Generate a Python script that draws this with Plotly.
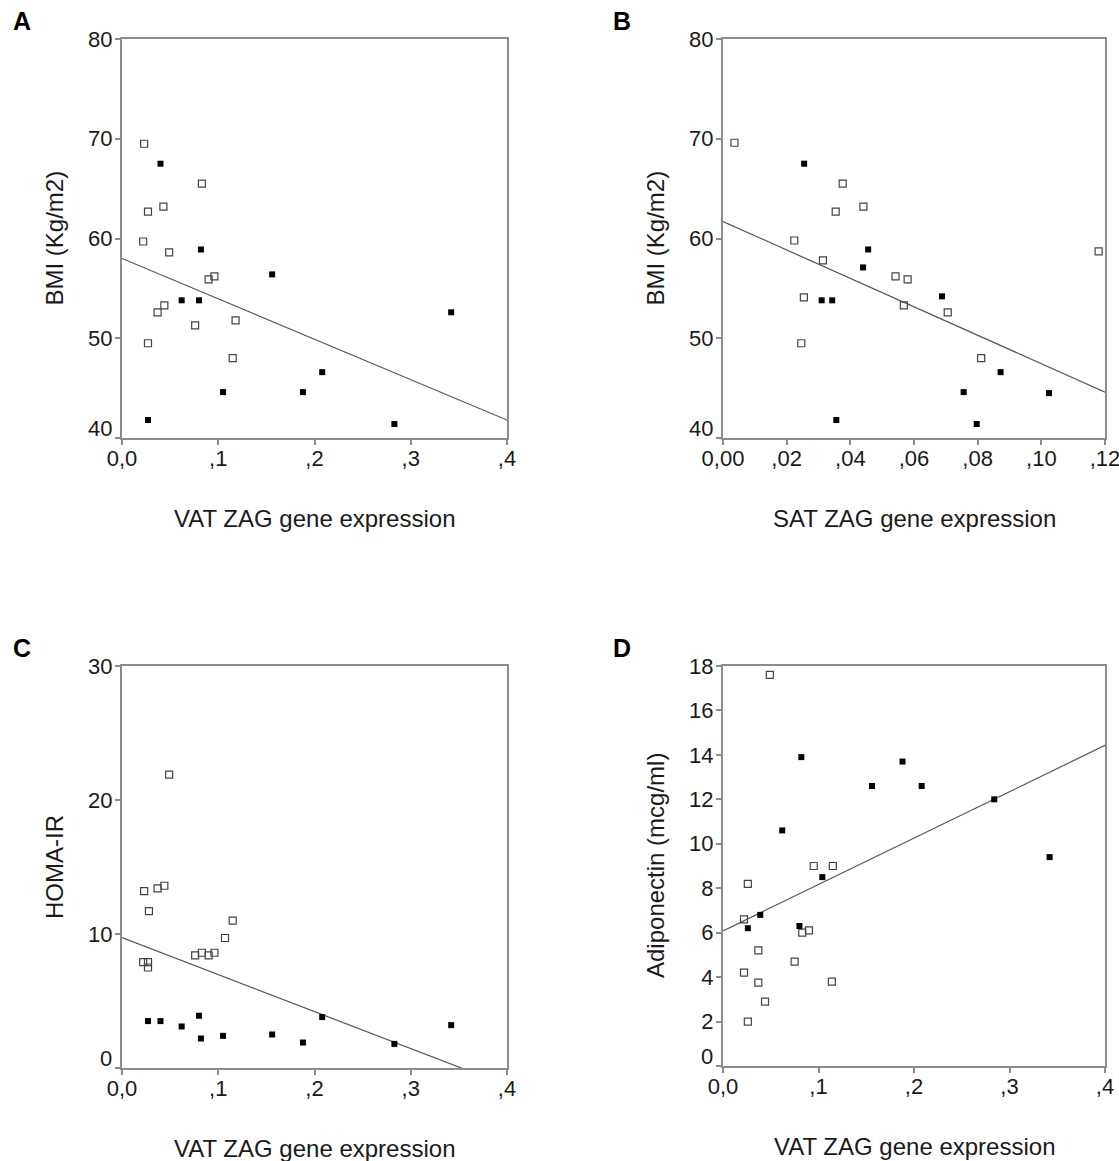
import plotly.graph_objects as go

# ---------------- data ----------------
# Panel A: BMI vs VAT ZAG gene expression
A_open_x = [0.023, 0.083, 0.027, 0.043, 0.022, 0.049, 0.090, 0.096, 0.044, 0.037, 0.076, 0.118, 0.027, 0.115]
A_open_y = [69.5, 65.5, 62.7, 63.2, 59.7, 58.6, 55.9, 56.2, 53.3, 52.6, 51.3, 51.8, 49.5, 48.0]
A_fill_x = [0.040, 0.082, 0.062, 0.080, 0.027, 0.105, 0.156, 0.188, 0.342, 0.208, 0.283]
A_fill_y = [67.5, 58.9, 53.8, 53.8, 41.8, 44.6, 56.4, 44.6, 52.6, 46.6, 41.4]
A_fit_x = [0.0, 0.4]
A_fit_y = [58.0, 41.8]

# Panel B: BMI vs SAT ZAG gene expression
B_open_x = [0.0036, 0.0376, 0.0354, 0.0441, 0.0224, 0.0314, 0.0542, 0.0580, 0.0254, 0.0568, 0.0246, 0.0706, 0.0811, 0.1180]
B_open_y = [69.6, 65.5, 62.7, 63.2, 59.8, 57.8, 56.2, 55.9, 54.1, 53.3, 49.5, 52.6, 48.0, 58.7]
B_fill_x = [0.0255, 0.0456, 0.0440, 0.0310, 0.0343, 0.0356, 0.0688, 0.0872, 0.0756, 0.1024, 0.0797]
B_fill_y = [67.5, 58.9, 57.1, 53.8, 53.8, 41.8, 54.2, 46.6, 44.6, 44.5, 41.4]
B_fit_x = [0.0, 0.12]
B_fit_y = [61.7, 44.6]

# Panel C: HOMA-IR vs VAT ZAG gene expression
C_open_x = [0.049, 0.023, 0.037, 0.044, 0.028, 0.115, 0.107, 0.076, 0.083, 0.090, 0.096, 0.022, 0.027, 0.027]
C_open_y = [21.9, 13.2, 13.4, 13.6, 11.7, 11.0, 9.7, 8.4, 8.6, 8.4, 8.6, 7.9, 7.9, 7.5]
C_fill_x = [0.027, 0.040, 0.062, 0.080, 0.082, 0.105, 0.156, 0.188, 0.208, 0.283, 0.342]
C_fill_y = [3.5, 3.5, 3.1, 3.9, 2.2, 2.4, 2.5, 1.9, 3.8, 1.8, 3.2]
C_fit_x = [0.0, 0.4]
C_fit_y = [9.73, -1.31]

# Panel D: Adiponectin vs VAT ZAG gene expression
D_open_x = [0.049, 0.026, 0.095, 0.115, 0.022, 0.083, 0.090, 0.037, 0.075, 0.022, 0.037, 0.114, 0.044, 0.026]
D_open_y = [17.6, 8.2, 9.0, 9.0, 6.6, 6.0, 6.1, 5.2, 4.7, 4.2, 3.75, 3.8, 2.9, 2.0]
D_fill_x = [0.082, 0.156, 0.188, 0.208, 0.062, 0.104, 0.039, 0.026, 0.080, 0.284, 0.342]
D_fill_y = [13.9, 12.6, 13.7, 12.6, 10.6, 8.5, 6.8, 6.2, 6.3, 12.0, 9.4]
D_fit_x = [0.0, 0.4]
D_fit_y = [6.08, 14.43]

# tick labels
vat_tickvals = [0, 0.1, 0.2, 0.3, 0.4]
vat_ticktext = ["0,0", ",1", ",2", ",3", ",4"]
sat_tickvals = [0, 0.02, 0.04, 0.06, 0.08, 0.10, 0.12]
sat_ticktext = ["0,00", ",02", ",04", ",06", ",08", ",10", ",12"]
bmi_ticks = [40, 50, 60, 70, 80]
homa_ticks = [0, 10, 20, 30]
adipo_ticks = [0, 2, 4, 6, 8, 10, 12, 14, 16, 18]

panel_letters = ["A", "B", "C", "D"]
x_titles = ["VAT ZAG gene expression", "SAT ZAG gene expression",
            "VAT ZAG gene expression", "VAT ZAG gene expression"]
y_titles = ["BMI (Kg/m2)", "BMI (Kg/m2)", "HOMA-IR", "Adiponectin (mcg/ml)"]

# ---------------- layout geometry ----------------
W, H = 1119, 1161
FONT = "Liberation Sans, Arial, sans-serif"
AXC = "#8c8c8c"
TXT = "#1a1a1a"


def px_x(p):
    return p / W


def py_y(p):
    return 1 - p / H


panels = [
    dict(xdom=(122, 507), ydom=(39, 438), ox=A_open_x, oy=A_open_y, fx=A_fill_x, fy=A_fill_y,
         lx=A_fit_x, ly=A_fit_y, xr=[0, 0.4], yr=[40, 80], xtv=vat_tickvals, xtt=vat_ticktext,
         ytv=bmi_ticks),
    dict(xdom=(723, 1105), ydom=(39, 438), ox=B_open_x, oy=B_open_y, fx=B_fill_x, fy=B_fill_y,
         lx=B_fit_x, ly=B_fit_y, xr=[0, 0.12], yr=[40, 80], xtv=sat_tickvals, xtt=sat_ticktext,
         ytv=bmi_ticks),
    dict(xdom=(122, 507), ydom=(666, 1068), ox=C_open_x, oy=C_open_y, fx=C_fill_x, fy=C_fill_y,
         lx=C_fit_x, ly=C_fit_y, xr=[0, 0.4], yr=[0, 30], xtv=vat_tickvals, xtt=vat_ticktext,
         ytv=homa_ticks),
    dict(xdom=(723, 1105), ydom=(666, 1066), ox=D_open_x, oy=D_open_y, fx=D_fill_x, fy=D_fill_y,
         lx=D_fit_x, ly=D_fit_y, xr=[0, 0.4], yr=[0, 18], xtv=vat_tickvals, xtt=vat_ticktext,
         ytv=adipo_ticks),
]

fig = go.Figure()
layout = dict(
    width=W, height=H,
    margin=dict(l=0, r=0, t=0, b=0, autoexpand=False),
    paper_bgcolor="white", plot_bgcolor="white",
    showlegend=False,
    font=dict(family=FONT, color=TXT),
)
annotations = []

for i, p in enumerate(panels, start=1):
    xa = "x" if i == 1 else f"x{i}"
    ya = "y" if i == 1 else f"y{i}"
    xkey = "xaxis" if i == 1 else f"xaxis{i}"
    ykey = "yaxis" if i == 1 else f"yaxis{i}"

    fig.add_trace(go.Scatter(x=p["lx"], y=p["ly"], mode="lines",
                             line=dict(color="#555555", width=1.2),
                             xaxis=xa, yaxis=ya, hoverinfo="skip"))
    fig.add_trace(go.Scatter(x=p["ox"], y=p["oy"], mode="markers",
                             marker=dict(symbol="square-open", size=7, color="#444444",
                                         line=dict(width=1.2, color="#444444")),
                             xaxis=xa, yaxis=ya))
    fig.add_trace(go.Scatter(x=p["fx"], y=p["fy"], mode="markers",
                             marker=dict(symbol="square", size=6, color="black"),
                             xaxis=xa, yaxis=ya))

    common = dict(showline=True, mirror=True, linecolor=AXC, linewidth=2,
                  ticks="outside", ticklen=5, tickwidth=1.5, tickcolor=AXC,
                  showgrid=False, zeroline=False, automargin=False,
                  ticklabeloverflow="allow",
                  tickfont=dict(family=FONT, size=22, color=TXT))
    layout[xkey] = dict(domain=[px_x(p["xdom"][0]), px_x(p["xdom"][1])], anchor=ya,
                        range=p["xr"], tickmode="array", tickvals=p["xtv"], ticktext=p["xtt"],
                        ticklabelstandoff=-5, **common)
    # lowest y label is lifted above the x-axis labels (as in the reference)
    ytt = [""] + [str(v) for v in p["ytv"][1:]]
    layout[ykey] = dict(domain=[py_y(p["ydom"][1]), py_y(p["ydom"][0])], anchor=xa,
                        range=p["yr"], tickmode="array", tickvals=p["ytv"],
                        ticktext=ytt, ticklabelstandoff=-2, **common)
    annotations.append(dict(text=str(p["ytv"][0]), x=px_x(p["xdom"][0] - 8), y=p["ytv"][0],
                            xref="paper", yref=ya, xanchor="right", yanchor="middle",
                            yshift=10, showarrow=False,
                            font=dict(family=FONT, size=22, color=TXT)))

    # panel letter
    lx0 = 11 if p["xdom"][0] < 600 else 611
    ly0 = 21 if p["ydom"][0] < 600 else 648
    annotations.append(dict(text=f"<b>{panel_letters[i-1]}</b>", x=px_x(lx0), y=py_y(ly0),
                            xref="paper", yref="paper", xanchor="left", yanchor="middle",
                            showarrow=False, font=dict(family=FONT, size=25, color="black")))
    # x title
    xc = (p["xdom"][0] + p["xdom"][1]) / 2
    annotations.append(dict(text=x_titles[i-1], x=px_x(xc), y=py_y(p["ydom"][1] + 80),
                            xref="paper", yref="paper", xanchor="center", yanchor="middle",
                            showarrow=False, font=dict(family=FONT, size=24, color=TXT)))
    # y title
    yc = (p["ydom"][0] + p["ydom"][1]) / 2
    annotations.append(dict(text=y_titles[i-1], x=px_x(p["xdom"][0] - 68), y=py_y(yc),
                            xref="paper", yref="paper", xanchor="center", yanchor="middle",
                            textangle=-90, showarrow=False,
                            font=dict(family=FONT, size=24, color=TXT)))

layout["annotations"] = annotations
fig.update_layout(**layout)
fig.write_html(
    "out.html",
    config={"displayModeBar": False},
    post_script="document.body.style.margin='0';document.body.style.overflow='hidden';",
)
